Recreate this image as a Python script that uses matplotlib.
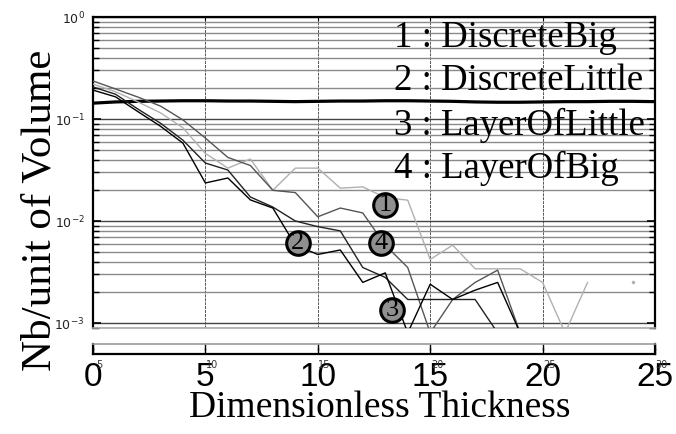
import numpy as np
import matplotlib
matplotlib.use("Agg")
import matplotlib.pyplot as plt
from matplotlib.ticker import FixedLocator, NullFormatter, LogLocator

# ---------------- data ----------------
x = list(range(26))
NaN = float("nan")
CLIP = 0.0008  # value below the visible range (line runs off the bottom)

reference_line = [0.143, 0.147, 0.149, 0.150, 0.151, 0.151, 0.150, 0.150, 0.149,
                  0.148, 0.149, 0.150, 0.150, 0.151, 0.151, 0.150, 0.149, 0.147,
                  0.146, 0.146, 0.147, 0.148, 0.148, 0.149, 0.149, 0.148]

discrete_big = [0.220, 0.185, 0.147, 0.115, 0.082, 0.046, 0.033, 0.0405, 0.020,
                0.033, 0.033, 0.021, 0.0216, 0.017, 0.016, 0.0042, 0.0058,
                0.0034, 0.0034, 0.0034, 0.0025, CLIP, 0.0025, NaN, 0.0025, NaN]

layer_of_big = [0.236, 0.197, 0.164, 0.134, 0.098, 0.065, 0.042, 0.035, 0.020,
                0.019, 0.011, 0.0134, 0.012, 0.0058, 0.0035, CLIP, 0.0017,
                0.0025, 0.0033, CLIP, NaN, NaN, NaN, NaN, NaN, NaN]

layer_of_little = [0.206, 0.175, 0.125, 0.091, 0.062, 0.037, 0.0316, 0.0172,
                   0.0137, 0.0100, 0.0088, 0.0080, 0.0035, 0.0028, 0.0017,
                   0.0017, 0.0017, 0.0017, CLIP, NaN, NaN, NaN, NaN, NaN, NaN, NaN]

discrete_little = [0.192, 0.165, 0.118, 0.085, 0.058, 0.0236, 0.0264, 0.0161,
                   0.0134, 0.0058, 0.0047, 0.0052, 0.0025, 0.0031, CLIP, 0.0024,
                   0.0017, 0.0021, 0.0025, CLIP, NaN, NaN, NaN, NaN, NaN, NaN]

legend_labels = ["1 : DiscreteBig", "2 : DiscreteLittle",
                 "3 : LayerOfLittle", "4 : LayerOfBig"]

tag_text = ["1", "2", "4", "3"]
tag_x = [13.0, 9.1, 12.8, 13.3]
tag_y = [0.0143, 0.0061, 0.0061, 0.00134]

big_xticks = [0, 5, 10, 15, 20, 25]
big_xticklabels = ["0", "5", "10", "15", "20", "25"]
small_xticklabels = ["5", "10", "15", "20", "25", "30"]
ytick_vals = [1e-3, 1e-2, 1e-1, 1e0]
ytick_labels = [r"$10^{-3}$", r"$10^{-2}$", r"$10^{-1}$", r"$10^{0}$"]

# ---------------- figure ----------------
W, H = 676, 434
fig = plt.figure(figsize=(W / 100, H / 100), dpi=100)

def fx(px):
    return px / W

def fy(py):
    return 1 - py / H

left, right, top, bottom = 93, 655, 17, 328
ax = fig.add_axes([fx(left), fy(bottom), fx(right - left), fy(top) - fy(bottom)])
ax.set_yscale("log")
ax.set_xlim(0, 25)
ax.set_ylim(10 ** -3.049, 1.0)

# grid
ax.yaxis.set_major_locator(FixedLocator(ytick_vals))
ax.yaxis.set_minor_locator(LogLocator(base=10, subs=np.arange(2, 10)))
ax.yaxis.set_minor_formatter(NullFormatter())
ax.set_yticklabels(ytick_labels)
ax.set_xticks(big_xticks)
ax.set_xticklabels([])
ax.grid(True, which="major", axis="y", color="#444444", lw=1.0)
ax.grid(True, which="minor", axis="y", color="#8a8a8a", lw=1.0)
ax.grid(True, which="major", axis="x", color="#555555", lw=0.7, ls=(0, (3, 1)))

ax.tick_params(axis="y", which="both", direction="in", left=True, right=True,
               labelsize=9, labelcolor="#222222", pad=6)
ax.tick_params(axis="y", which="major", length=6, width=1.2)
ax.tick_params(axis="y", which="minor", length=4, width=1.0)
ax.tick_params(axis="x", direction="in", length=3, top=True, bottom=False)
for s in ["left", "right", "top"]:
    ax.spines[s].set_linewidth(1.6)
    ax.spines[s].set_color("black")
ax.spines["bottom"].set_color("#aaaaaa")
ax.spines["bottom"].set_linewidth(1.2)

# lines
ax.plot(x, reference_line, color="black", lw=2.3, zorder=3)
ax.plot(x, discrete_big, color="#b0b0b0", lw=1.0, zorder=3)
ax.plot(x, layer_of_big, color="#555555", lw=1.0, zorder=3)
ax.plot(x, layer_of_little, color="#222222", lw=1.0, zorder=3)
ax.plot(x, discrete_little, color="#000000", lw=1.0, zorder=3)

# isolated points (neighbours missing) drawn as dots
arr = np.array(discrete_big, dtype=float)
for i in range(len(arr)):
    if not np.isnan(arr[i]):
        lft = np.isnan(arr[i - 1]) if i > 0 else True
        rgt = np.isnan(arr[i + 1]) if i < len(arr) - 1 else True
        if lft and rgt:
            ax.plot([x[i]], [arr[i]], "o", color="#b0b0b0", ms=2.5, mec="none", zorder=3)

# numbered tags
for t, tx, ty in zip(tag_text, tag_x, tag_y):
    ax.plot([tx], [ty], "o", ms=17, mfc="#909090", mec="black", mew=2.2, zorder=5)
    ax.text(tx, ty, t, ha="center", va="center", fontsize=19,
            family="Liberation Serif", color="black", zorder=6)

# ---------------- lower strip ----------------
sb_top, sb_bot = 344, 354
ax2 = fig.add_axes([fx(left), fy(sb_bot), fx(right - left), fy(sb_top) - fy(sb_bot)])
ax2.set_xlim(0, 25)
ax2.set_ylim(0, 1)
ax2.set_yticks([])
ax2.set_xticks(big_xticks)
ax2.set_xticklabels(big_xticklabels, fontsize=24, family="Liberation Sans")
ax2.tick_params(axis="x", direction="in", length=4, width=1.0, pad=6)
ax2.tick_params(axis="x", which="both", top=True)
ax2.spines["top"].set_color("#999999")
ax2.spines["top"].set_linewidth(1.2)
ax2.spines["bottom"].set_linewidth(1.6)
ax2.spines["left"].set_linewidth(1.6)
ax2.spines["right"].set_linewidth(1.6)

# small overlapping tick labels of the embedded plot
for xv, lab in zip(big_xticks, small_xticklabels):
    ax2.text(xv + 0.3, -0.6, lab, ha="center", va="top", fontsize=7,
             color="#333333", transform=ax2.get_xaxis_transform(), zorder=4)

# ---------------- texts ----------------
legend_y = [38, 81, 125, 168]
for lab, ly in zip(legend_labels, legend_y):
    fig.text(fx(394), fy(ly), lab, ha="left", va="center", fontsize=26.5,
             family="Liberation Serif", color="black")

fig.text(fx(380), fy(408), "Dimensionless Thickness", ha="center", va="center",
         fontsize=27, family="Liberation Serif")
fig.text(fx(40), fy(210), "Nb/unit of Volume", ha="center", va="center",
         rotation=90, fontsize=31, family="Liberation Serif")

fig.savefig("out.png", dpi=100)
